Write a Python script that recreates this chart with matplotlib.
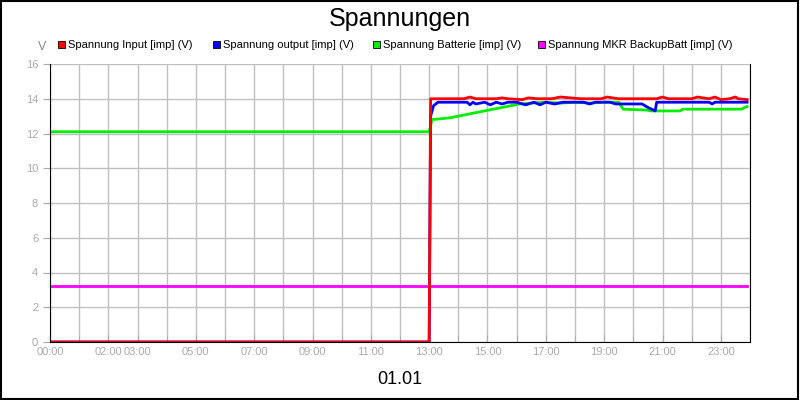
import matplotlib
matplotlib.use("Agg")
import matplotlib.pyplot as plt
from matplotlib.patches import Rectangle
plt.rcParams["font.family"] = "Liberation Sans"

title = "Spannungen"
xlabel = "01.01"
ylabel = "V"
tick_hours = [0, 2, 3, 5, 7, 9, 11, 13, 15, 17, 19, 21, 23]
tick_labels = ["00:00", "02:00", "03:00", "05:00", "07:00", "09:00", "11:00",
               "13:00", "15:00", "17:00", "19:00", "21:00", "23:00"]

t_in = [0, 13.0, 13.05, 14.2, 14.4, 14.6, 15.3, 15.5, 15.7, 16.2, 16.4, 16.7, 17.2, 17.5, 18.2, 18.4,
        18.9, 19.1, 19.5, 20.8, 21.0, 21.2, 22.0, 22.2, 22.6, 22.8, 23.0, 23.3, 23.5, 23.6, 23.9]
v_in = [0, 0, 14.0, 14.0, 14.1, 14.0, 14.0, 14.05, 14.0, 13.95, 14.05, 14.0, 14.0, 14.1, 14.0, 14.0,
        14.0, 14.1, 14.0, 14.0, 14.1, 14.0, 14.0, 14.1, 14.0, 14.1, 13.95, 14.0, 14.1, 14.0, 13.95]

t_out = [0, 13.0, 13.05, 13.15, 13.3, 14.3, 14.4, 14.5, 14.6, 14.9, 15.1, 15.3, 15.5, 15.7, 16.0, 16.3,
         16.6, 16.8, 17.0, 17.3, 17.6, 18.3, 18.5, 18.7, 19.2, 19.4, 20.3, 20.5, 20.75, 20.8, 22.6, 22.7,
         22.8, 23.9]
v_out = [0, 0, 13.0, 13.6, 13.8, 13.8, 13.65, 13.8, 13.7, 13.8, 13.65, 13.8, 13.7, 13.8, 13.8, 13.65,
         13.8, 13.65, 13.8, 13.7, 13.8, 13.8, 13.7, 13.8, 13.8, 13.7, 13.7, 13.5, 13.3, 13.8, 13.8, 13.7,
         13.8, 13.8]

t_bat = [0, 13.0, 13.1, 13.4, 13.7, 14.0, 14.3, 14.6, 14.9, 15.2, 15.5, 15.8, 16.1, 16.5, 17.0, 17.5,
         18.0, 18.5, 19.0, 19.5, 19.65, 20.45, 20.6, 21.6, 21.7, 23.7, 23.9]
v_bat = [12.1, 12.1, 12.8, 12.85, 12.9, 13.0, 13.1, 13.2, 13.3, 13.4, 13.5, 13.6, 13.7, 13.75, 13.8, 13.75,
         13.8, 13.75, 13.8, 13.8, 13.4, 13.35, 13.3, 13.3, 13.4, 13.4, 13.55]

t_mkr = [0, 23.9]
v_mkr = [3.2, 3.2]

series = [
    ("Spannung Input [imp] (V)", "#ff0000", t_in, v_in),
    ("Spannung output [imp] (V)", "#0000ff", t_out, v_out),
    ("Spannung Batterie [imp] (V)", "#00ee00", t_bat, v_bat),
    ("Spannung MKR BackupBatt [imp] (V)", "#ff00ff", t_mkr, v_mkr),
]

fig = plt.figure(figsize=(8, 4), dpi=100)
ax = fig.add_axes([50/800, 58/400, 700/800, 278/400])
for name, c, t, v in reversed(series):
    ax.plot(t, v, color=c, lw=2, label=name)

ax.set_xlim(0, 24)
ax.set_ylim(0, 16)
ax.set_xticks(tick_hours, minor=False)
ax.set_xticks(range(0, 25), minor=True)
ax.set_xticklabels(tick_labels, color="#aaaaaa", fontsize=8)
ax.set_yticks(range(0, 17, 2))
ax.set_yticklabels([str(v) for v in range(0, 17, 2)], color="#aaaaaa", fontsize=8)
ax.grid(True, which="both", color="#c0c0c0", lw=1)
ax.set_axisbelow(True)
ax.tick_params(which="both", colors="#aaaaaa", length=5, direction="out")
ax.tick_params(axis="x", which="both", direction="in", length=5)
ax.spines["top"].set_visible(False)
for s in ["left", "bottom", "right"]:
    ax.spines[s].set_color("black")

fig.text(0.5, 0.953, title, ha="center", va="center", fontsize=18)
fig.text(0.5, 0.05, xlabel, ha="center", va="center", fontsize=13)
fig.text(42/800, 353/400, ylabel, ha="center", va="center", fontsize=9, color="#888888")

xs = [58, 213, 373, 538]
for (name, c, t, v), x in zip(series, xs):
    fig.patches.append(Rectangle((x/800, 352/400), 7/800, 7/400, facecolor=c, edgecolor="black",
                                 lw=0.6, transform=fig.transFigure))
    fig.text((x + 10)/800, 355.5/400, name, fontsize=8, va="center")

fig.patches.append(Rectangle((0.001, 0.002), 0.997, 0.996, fill=False, edgecolor="black", lw=1.5,
                             transform=fig.transFigure))
fig.savefig("out.png")
